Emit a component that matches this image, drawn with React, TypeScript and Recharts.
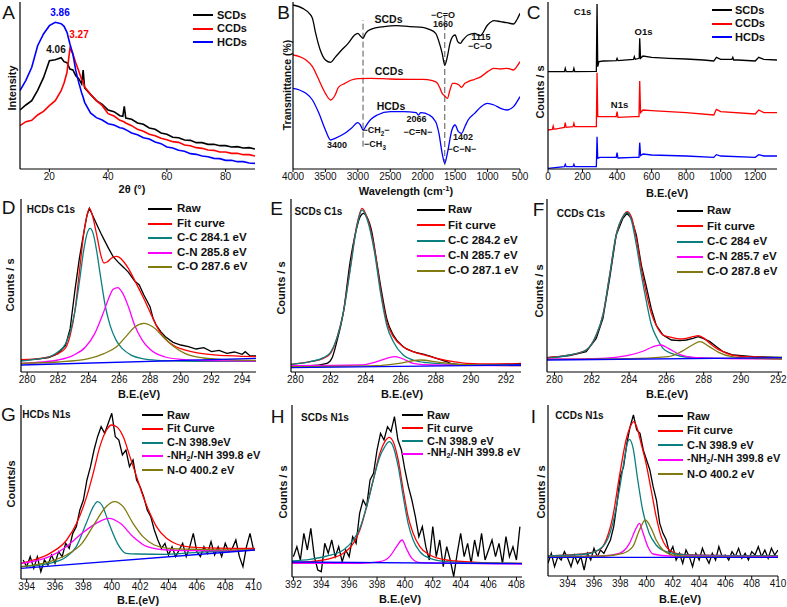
import React from 'react';
import { LineChart, Line, XAxis, YAxis, Legend, ReferenceLine } from 'recharts';

const FONT = '"Liberation Sans", Arial, Helvetica, sans-serif';

// ---------- A: XRD (2θ, intensity in arbitrary units)
const xrdTheta = [10, 12, 14, 16, 18, 20, 22, 24, 25, 26, 27, 28, 29, 30, 31, 31.5, 32, 34, 36, 38, 40, 42, 44, 45, 45.5, 46, 48, 50, 52, 54, 56, 58, 60, 62, 64, 66, 68, 70, 72, 74, 76, 78, 80, 82, 84, 86, 88, 90];
const xrdSCD = [177, 192, 205, 236, 274, 325, 328, 334, 322, 319, 300, 297, 280, 271, 255, 297, 243, 224, 205, 194, 177, 172, 160, 158, 188, 153, 149, 138, 134, 123, 119, 108, 104, 95, 94, 87, 86, 79, 79, 74, 74, 70, 70, 66, 67, 63, 64, 60];
const xrdCCD = [130, 142, 146, 162, 173, 190, 205, 235, 258, 290, 362, 345, 318, 294, 268, 262, 246, 224, 205, 190, 166, 159, 146, 143, 141, 138, 130, 119, 113, 104, 100, 92, 88, 82, 80, 72, 70, 64, 62, 57, 56, 51, 51, 47, 47, 43, 43, 39];
const xrdHCD = [235, 266, 305, 370, 405, 430, 440, 436, 428, 410, 375, 345, 295, 259, 228, 215, 200, 168, 154, 147, 136, 132, 124, 122, 120, 118, 108, 103, 94, 90, 81, 76, 66, 63, 56, 53, 46, 44, 39, 37, 32, 31, 26, 26, 22, 22, 18, 17];

// ---------- B: FTIR
const ftirSCDx = [4000, 3850, 3750, 3700, 3650, 3580, 3500, 3420, 3350, 3250, 3150, 3050, 3000, 2960, 2920, 2880, 2800, 2600, 2400, 2200, 2000, 1900, 1800, 1750, 1700, 1660, 1620, 1580, 1540, 1500, 1460, 1420, 1380, 1300, 1200, 1115, 1000, 900, 800, 700, 600, 550, 500];
const ftirSCDy = [492, 482, 467, 452, 407, 357, 327, 320, 335, 357, 377, 402, 407, 399, 392, 407, 419, 427, 430, 427, 425, 419, 407, 382, 347, 312, 337, 377, 397, 402, 382, 377, 387, 402, 407, 400, 432, 445, 442, 439, 435, 447, 467];
const ftirCCDx = [4000, 3900, 3800, 3700, 3600, 3500, 3420, 3350, 3300, 3200, 3100, 3000, 2800, 2500, 2200, 2000, 1850, 1780, 1740, 1700, 1660, 1620, 1580, 1540, 1500, 1440, 1400, 1350, 1300, 1200, 1100, 1000, 900, 800, 700, 600, 550, 500];
const ftirCCDy = [342, 337, 327, 307, 267, 227, 207, 222, 245, 257, 267, 271, 272, 270, 269, 269, 265, 259, 245, 227, 219, 212, 237, 257, 257, 252, 245, 257, 262, 269, 277, 292, 302, 300, 302, 297, 307, 322];
const ftirHCDx = [4000, 3900, 3800, 3700, 3600, 3500, 3420, 3350, 3200, 3100, 3000, 2960, 2920, 2880, 2850, 2700, 2500, 2300, 2100, 2066, 2030, 1900, 1800, 1750, 1700, 1660, 1620, 1550, 1500, 1450, 1400, 1350, 1300, 1200, 1100, 1000, 900, 800, 700, 600, 500];
const ftirHCDy = [242, 237, 227, 207, 167, 117, 87, 92, 107, 122, 139, 132, 117, 127, 137, 162, 172, 172, 169, 162, 169, 162, 142, 107, 47, 17, 47, 117, 132, 112, 107, 127, 147, 167, 187, 197, 192, 182, 177, 187, 217];

// ---------- C: XPS survey
const surSCDx = [0, 95, 100, 105, 145, 150, 155, 280, 284, 288, 295, 320, 395, 400, 405, 495, 500, 505, 528, 531, 536, 550, 600, 700, 800, 900, 960, 975, 1000, 1065, 1070, 1075, 1100, 1200, 1220, 1250, 1326];
const surSCDy = [292, 292, 302, 292, 292, 302, 292, 293, 495, 307, 322, 324, 325, 332, 325, 329, 337, 329, 332, 392, 332, 339, 335, 332, 330, 327, 324, 335, 329, 329, 335, 327, 327, 324, 335, 329, 327];
const surCCDx = [0, 25, 30, 35, 95, 100, 105, 145, 150, 155, 280, 284, 288, 300, 395, 400, 405, 500, 527, 531, 536, 550, 600, 800, 960, 975, 1000, 1200, 1220, 1250, 1326];
const surCCDy = [117, 119, 129, 119, 125, 139, 125, 127, 137, 127, 127, 289, 157, 157, 157, 172, 155, 157, 157, 264, 169, 177, 175, 169, 162, 179, 172, 165, 177, 169, 169];
const surHCDx = [0, 95, 100, 105, 145, 150, 155, 280, 284, 288, 300, 395, 400, 405, 500, 527, 531, 536, 550, 600, 800, 960, 975, 1000, 1200, 1220, 1250, 1326];
const surHCDy = [2, 7, 14, 7, 7, 14, 7, 7, 97, 32, 35, 35, 49, 33, 35, 35, 79, 40, 45, 42, 39, 35, 43, 39, 35, 43, 39, 39];

// ---------- D: HCDs C1s
const dRawX = [279.6, 280.5, 281.4, 282, 282.5, 282.8, 283.1, 283.4, 283.7, 283.9, 284.05, 284.2, 284.4, 284.6, 284.8, 285.0, 285.3, 285.6, 286.0, 286.3, 286.6, 287.0, 287.3, 287.6, 288.0, 288.2, 288.4, 288.7, 289.0, 289.5, 290.0, 290.5, 291.0, 291.5, 292.0, 292.5, 293.0, 293.5, 294.0, 294.2, 294.5, 294.9];
const dRawY = [36, 38, 43, 55, 80, 130, 241, 341, 421, 471, 491, 476, 456, 436, 416, 398, 371, 346, 326, 313, 299, 273, 261, 231, 196, 161, 141, 121, 106, 89, 81, 76, 69, 73, 61, 65, 56, 60, 53, 61, 49, 48];
const dFitX = [279.6, 280.5, 281.4, 282, 282.5, 282.8, 283.1, 283.4, 283.7, 283.9, 284.05, 284.2, 284.4, 284.6, 284.8, 285.0, 285.2, 285.5, 285.8, 286.0, 286.3, 286.6, 287.0, 287.3, 287.6, 288.0, 288.4, 288.8, 289.2, 289.6, 290.0, 291.0, 292.0, 293.0, 294.0, 294.9];
const dFitY = [37, 39, 45, 55, 72, 110, 180, 300, 420, 470, 490, 478, 440, 395, 350, 327, 330, 342, 347, 344, 330, 310, 275, 248, 220, 180, 140, 110, 90, 78, 70, 58, 52, 49, 47, 46];
const dCCx = [279.6, 280.5, 281.4, 282, 282.5, 282.8, 283.1, 283.4, 283.7, 283.9, 284.1, 284.3, 284.5, 284.8, 285.1, 285.4, 285.8, 286.2, 286.8, 287.5, 288.5, 290, 292, 294.9];
const dCCy = [33, 38, 45, 60, 85, 120, 180, 270, 370, 415, 431, 415, 370, 280, 195, 140, 95, 70, 50, 40, 35, 33, 32, 32];
const dCNx = [279.6, 281, 282, 283, 283.8, 284.4, 284.9, 285.3, 285.6, 285.9, 286.2, 286.6, 287, 287.5, 288, 289, 290, 292, 294.9];
const dCNy = [26, 30, 36, 50, 75, 115, 170, 220, 248, 253, 238, 195, 140, 95, 68, 45, 38, 34, 33];
const dCOx = [279.6, 282, 284, 285, 285.8, 286.5, 287, 287.6, 288.2, 288.8, 289.5, 290.3, 291.5, 293, 294.9];
const dCOy = [26, 30, 40, 55, 75, 110, 135, 146, 135, 108, 78, 55, 42, 37, 35];
const dBaseX = [279.6, 294.9];
const dBaseY = [21, 41];

// ---------- E: SCDs C1s
const eRawX = [279.75, 280.85, 281.8, 282.08, 282.36, 282.74, 283.12, 283.4, 283.69, 283.88, 284.06, 284.35, 284.63, 284.91, 285.2, 285.58, 286.14, 286.71, 287.47, 288.03, 288.6, 288.98, 289.73, 291.25, 292.85];
const eRawY = [19, 19, 26, 41, 91, 181, 331, 411, 466, 476, 466, 421, 331, 241, 161, 111, 76, 61, 51, 41, 31, 24, 21, 22, 26];
const eFitX = [279.75, 280.85, 281.6, 282, 282.36, 282.74, 283.12, 283.5, 283.8, 284.1, 284.5, 284.87, 285.2, 285.58, 286.14, 286.7, 287.47, 288.2, 289, 289.73, 291.25, 292.85];
const eFitY = [23, 31, 41, 56, 101, 181, 311, 441, 491, 461, 371, 241, 151, 106, 76, 61, 49, 39, 31, 26, 24, 24];
const eCCx = [279.75, 280.85, 281.6, 282, 282.36, 282.74, 283.12, 283.5, 283.8, 284.1, 284.5, 284.87, 285.2, 285.58, 286.14, 286.7, 287.47, 289, 292.85];
const eCCy = [23, 31, 43, 59, 101, 181, 306, 436, 486, 456, 361, 231, 141, 91, 51, 36, 28, 23, 21];
const eCNx = [279.75, 283.7, 284.63, 285.2, 285.7, 286.14, 286.7, 287.8, 292.85];
const eCNy = [19, 21, 31, 41, 46, 39, 26, 21, 19];
const eCOx = [279.75, 284.63, 285.9, 287.1, 288.2, 289.3, 292.85];
const eCOy = [16, 19, 26, 36, 29, 23, 19];
const eBaseX = [279.75, 292.85];
const eBaseY = [13, 21];

// ---------- F: CCDs C1s
const fRawX = [279.6, 280.81, 281.7, 282.24, 282.6, 282.96, 283.31, 283.67, 283.89, 284.12, 284.39, 284.66, 284.93, 285.19, 285.46, 285.82, 286.27, 286.72, 287.07, 287.43, 287.7, 287.97, 288.33, 288.69, 289.05, 289.58, 290.66, 292.2];
const fRawY = [43, 49, 61, 101, 161, 281, 411, 461, 476, 461, 411, 320, 255, 190, 140, 111, 96, 94, 96, 101, 106, 101, 91, 76, 61, 51, 46, 44];
const fFitX = [279.6, 280.81, 281.7, 282.24, 282.6, 282.96, 283.31, 283.67, 283.89, 284.12, 284.39, 284.66, 284.93, 285.2, 285.5, 285.82, 286.27, 286.72, 287.07, 287.43, 287.7, 287.97, 288.33, 288.69, 289.05, 289.58, 290.66, 292.2];
const fFitY = [43, 51, 66, 111, 171, 291, 411, 466, 481, 466, 400, 310, 235, 175, 135, 111, 104, 99, 101, 106, 109, 103, 86, 71, 61, 50, 45, 43];
const fCCx = [279.6, 280.81, 281.7, 282.24, 282.6, 282.96, 283.31, 283.67, 283.89, 284.12, 284.39, 284.66, 284.93, 285.2, 285.5, 285.82, 286.27, 286.72, 287.43, 288.5, 292.2];
const fCCy = [41, 51, 66, 111, 171, 291, 411, 466, 479, 456, 381, 291, 211, 141, 101, 71, 56, 48, 43, 41, 41];
const fCNx = [279.6, 282.6, 283.89, 284.78, 285.3, 285.7, 286.1, 286.7, 287.43, 288.8, 292.2];
const fCNy = [39, 41, 49, 63, 76, 81, 71, 53, 44, 41, 39];
const fCOx = [279.6, 284.5, 286.1, 286.8, 287.4, 287.8, 288.3, 288.8, 289.5, 290.6, 292.2];
const fCOy = [38, 41, 46, 61, 81, 91, 76, 59, 46, 41, 39];
const fBaseX = [279.6, 292.2];
const fBaseY = [36, 43];

// ---------- G: HCDs N1s
const gRawX = [393.75, 394, 394.25, 394.5, 394.75, 395, 395.25, 395.5, 395.75, 396, 396.25, 396.5, 396.75, 397, 397.25, 397.5, 397.75, 398, 398.25, 398.5, 398.75, 399, 399.25, 399.5, 399.75, 400, 400.25, 400.5, 400.75, 401, 401.25, 401.5, 401.75, 402, 402.25, 402.5, 402.75, 403, 403.25, 403.5, 403.75, 404, 404.25, 404.5, 404.75, 405, 405.25, 405.5, 405.75, 406, 406.25, 406.5, 406.75, 407, 407.25, 407.5, 407.75, 408, 408.25, 408.5, 408.75, 409, 409.25, 409.5, 409.75, 410];
const gRawY = [57, 37, 67, 32, 67, 22, 57, 42, 72, 47, 82, 67, 107, 92, 137, 157, 207, 237, 297, 337, 387, 427, 457, 437, 467, 497, 427, 417, 372, 387, 337, 357, 297, 277, 247, 207, 187, 147, 117, 92, 107, 72, 97, 67, 87, 107, 67, 97, 137, 82, 67, 97, 77, 112, 72, 97, 67, 107, 82, 92, 117, 67, 37, 97, 137, 87];
const gFitX = [393.6, 394.47, 395.64, 396.82, 397.52, 398.23, 398.69, 399.16, 399.63, 399.99, 400.34, 400.81, 401.28, 401.75, 402.22, 402.69, 403.15, 403.86, 404.56, 405.27, 406.2, 408.55, 410.1];
const gFitY = [47, 57, 77, 117, 167, 247, 317, 397, 447, 462, 457, 427, 367, 307, 247, 197, 157, 122, 105, 97, 94, 92, 92];
const gCNx = [393.6, 395.64, 396.8, 397.5, 398.2, 398.7, 399.0, 399.3, 399.8, 400.4, 401.0, 401.8, 403.9, 406, 410.1];
const gCNy = [37, 47, 67, 97, 167, 217, 232, 222, 167, 107, 77, 75, 74, 80, 87];
const gNHx = [393.6, 395.6, 396.8, 397.9, 398.9, 399.8, 400.6, 401.5, 402.5, 403.9, 406, 410.1];
const gNHy = [47, 67, 97, 137, 167, 182, 167, 127, 97, 87, 85, 87];
const gNOx = [393.6, 395.6, 396.8, 397.9, 398.8, 399.6, 400.2, 400.8, 401.5, 402.2, 403, 404, 406, 410.1];
const gNOy = [37, 52, 72, 107, 167, 217, 232, 217, 167, 127, 102, 92, 89, 87];
const gBaseX = [393.6, 410.1];
const gBaseY = [32, 87];

// ---------- H: SCDs N1s
const hRawX = [392, 392.25, 392.5, 392.75, 393, 393.25, 393.5, 393.75, 394, 394.25, 394.5, 394.75, 395, 395.25, 395.5, 395.75, 396, 396.25, 396.5, 396.75, 397, 397.25, 397.5, 397.75, 398, 398.25, 398.5, 398.75, 399, 399.25, 399.5, 399.75, 400, 400.25, 400.5, 400.75, 401, 401.25, 401.5, 401.75, 402, 402.25, 402.5, 402.75, 403, 403.25, 403.5, 403.75, 404, 404.25, 404.5, 404.75, 405, 405.25, 405.5, 405.75, 406, 406.25, 406.5, 406.75, 407, 407.25, 407.5, 407.75, 408, 408.25];
const hRawY = [61, 91, 51, 131, 81, 146, 61, 21, 16, 101, 71, 111, 61, 91, 46, 81, 61, 121, 101, 191, 231, 211, 291, 311, 381, 431, 411, 451, 436, 481, 411, 381, 321, 271, 231, 181, 121, 151, 91, 51, 151, 61, 111, 31, 91, 51, 1, 71, 131, 61, 101, 41, 111, 61, 131, 51, 81, 111, 61, 101, 41, 121, 61, 91, 51, 151];
const hFitX = [391.9, 393.19, 394.39, 395.58, 396.3, 396.77, 397.25, 397.73, 398.2, 398.56, 398.87, 399.16, 399.52, 399.88, 400.23, 400.59, 401.07, 401.79, 402.98, 405.13, 408.4];
const hFitY = [43, 46, 53, 71, 101, 141, 211, 291, 371, 406, 419, 406, 351, 261, 181, 131, 91, 66, 51, 44, 41];
const hCNy = [48, 53, 63, 81, 111, 146, 211, 291, 361, 391, 406, 391, 331, 241, 161, 111, 76, 56, 46, 42, 41];
const hNHx = [391.9, 396.77, 398.2, 398.9, 399.4, 399.8, 400.1, 400.5, 401.1, 408.4];
const hNHy = [41, 41, 46, 61, 91, 111, 86, 56, 43, 39];
const hBaseX = [391.9, 408.4];
const hBaseY = [45, 40];

// ---------- I: CCDs N1s
const iRawX = [392.5, 392.75, 393, 393.25, 393.5, 393.75, 394, 394.25, 394.5, 394.75, 395, 395.25, 395.5, 395.75, 396, 396.25, 396.5, 396.75, 397, 397.25, 397.5, 397.75, 398, 398.25, 398.5, 398.75, 399, 399.25, 399.5, 399.75, 400, 400.25, 400.5, 400.75, 401, 401.25, 401.5, 401.75, 402, 402.25, 402.5, 402.75, 403, 403.25, 403.5, 403.75, 404, 404.25, 404.5, 404.75, 405, 405.25, 405.5, 405.75, 406, 406.25, 406.5, 406.75, 407, 407.25, 407.5, 407.75, 408, 408.25, 408.5, 408.75, 409, 409.25, 409.5, 409.75, 410];
const iRawY = [38, 68, 28, 58, 48, 73, 53, 28, 63, 38, 58, 18, 68, 48, 83, 58, 78, 68, 88, 108, 148, 218, 298, 328, 398, 448, 483, 438, 428, 378, 348, 318, 268, 228, 158, 128, 108, 68, 88, 48, 68, 38, 78, 58, 28, 68, 48, 83, 58, 38, 68, 48, 88, 58, 63, 48, 73, 58, 83, 53, 68, 48, 73, 63, 88, 58, 78, 53, 83, 63, 78];
const iFitX = [392.5, 394.13, 395.4, 396.41, 396.92, 397.43, 397.93, 398.44, 398.82, 399.0, 399.25, 399.58, 399.96, 400.35, 400.73, 401.11, 401.49, 402.25, 403.52, 410];
const iFitY = [60, 63, 68, 78, 108, 178, 298, 408, 453, 463, 448, 398, 338, 258, 178, 118, 88, 68, 63, 60];
const iCNx = [392.5, 395.4, 396.66, 397.43, 397.93, 398.3, 398.57, 398.7, 398.95, 399.33, 399.7, 400.2, 400.73, 401.49, 403.0, 410];
const iCNy = [60, 66, 88, 158, 258, 348, 403, 410, 388, 288, 198, 128, 93, 73, 63, 60];
const iNHx = [392.5, 396.66, 397.93, 398.7, 399.2, 399.46, 399.7, 400.1, 400.5, 401.8, 410];
const iNHy = [58, 60, 68, 98, 143, 158, 133, 88, 66, 60, 58];
const iNOx = [392.5, 396.66, 398.2, 398.95, 399.46, 399.91, 400.35, 400.73, 401.24, 402.0, 403.5, 410];
const iNOy = [58, 60, 68, 88, 138, 168, 143, 108, 78, 63, 58, 56];
const iBaseX = [392.5, 410];
const iBaseY = [56, 56];

const BLACK = '#000000';
const RED = '#ff0000';
const BLUE = '#0000ff';
const TEAL = '#0b7f7f';
const MAGENTA = '#ff00ff';
const OLIVE = '#807a10';

type Pt = { x: number; y: number };
const pts = (xs: number[], ys: number[]): Pt[] => xs.map((x, i) => ({ x, y: ys[i] }));

type Series = { name: string; color: string; data: Pt[]; smooth?: boolean; width?: number };
type LegendCfg = { x: number; y: number; row: number; line: number; gap: number; font: number; names: string[] };

function legendLabel(v: string) {
  if (v.startsWith('-NH2')) {
    return (
      <span>
        -NH<sub style={{ fontSize: '0.65em', verticalAlign: '-0.3em' }}>2</sub>
        {v.slice(4)}
      </span>
    );
  }
  return v;
}

function makeLegend(cfg: LegendCfg) {
  return (props: any) => {
    const items = (props.payload || [])
      .filter((e: any) => cfg.names.includes(e.value))
      .sort((a: any, b: any) => cfg.names.indexOf(a.value) - cfg.names.indexOf(b.value));
    return (
      <div>
        {items.map((e: any) => (
          <div
            key={e.value}
            style={{ display: 'flex', alignItems: 'center', height: cfg.row, fontFamily: FONT, fontSize: cfg.font, fontWeight: 'bold', color: '#111', whiteSpace: 'nowrap', lineHeight: 1 }}
          >
            <span style={{ display: 'inline-block', width: cfg.line, height: 2, background: e.color, marginRight: cfg.gap }} />
            {legendLabel(e.value)}
          </div>
        ))}
      </div>
    );
  };
}

type PanelProps = {
  left: number; top: number; w: number; h: number;
  xDomain: [number, number]; ticks: number[]; yMax: number; reversed?: boolean;
  series: Series[]; legend?: LegendCfg; children?: React.ReactNode;
};

function Panel({ left, top, w, h, xDomain, ticks, yMax, reversed, series, legend, children }: PanelProps) {
  const ox = left - 30;
  const oy = top - 5;
  return (
    <div style={{ position: 'absolute', left: ox, top: oy }}>
      <LineChart width={w + 40} height={h + 35} margin={{ top: 5, right: 10, bottom: 0, left: 0 }}>
        <XAxis
          dataKey="x" type="number" domain={xDomain} allowDataOverflow ticks={ticks} interval={0}
          reversed={reversed} height={30} tickSize={3} tickMargin={1}
          tick={{ fontSize: 10, fill: '#111', fontFamily: FONT }}
          axisLine={{ stroke: '#000', strokeWidth: 1.2 }} tickLine={{ stroke: '#000' }}
        />
        <XAxis
          xAxisId="top" orientation="top" dataKey="x" type="number" domain={xDomain} allowDataOverflow
          reversed={reversed} height={0} tick={false} tickLine={false} axisLine={{ stroke: '#000', strokeWidth: 1.2 }}
        />
        <YAxis type="number" domain={[0, yMax]} allowDataOverflow width={30} tick={false} tickLine={false} axisLine={{ stroke: '#000', strokeWidth: 1.2 }} />
        <YAxis yAxisId="right" orientation="right" type="number" domain={[0, yMax]} allowDataOverflow width={0} tick={false} tickLine={false} axisLine={{ stroke: '#000', strokeWidth: 1.2 }} />
        {children}
        {series.map((s) => (
          <Line
            key={s.name} data={s.data} dataKey="y" name={s.name}
            type={s.smooth ? 'monotone' : 'linear'} stroke={s.color} strokeWidth={s.width ?? 1.3}
            dot={false} activeDot={false} isAnimationActive={false}
          />
        ))}
        {legend && (
          <Legend
            layout="horizontal" verticalAlign="middle" align="center"
            content={makeLegend(legend)}
            wrapperStyle={{ left: legend.x - ox, top: legend.y - legend.row / 2 - oy, width: 'auto', height: 'auto' }}
          />
        )}
      </LineChart>
    </div>
  );
}

function Txt({ x, y, children, size = 11, bold = true, color = '#111', rot = false }: { x: number; y: number; children: React.ReactNode; size?: number; bold?: boolean; color?: string; rot?: boolean }) {
  return (
    <div
      style={{
        position: 'absolute', left: x, top: y,
        transform: `translate(-50%, -50%)${rot ? ' rotate(-90deg)' : ''}`,
        fontFamily: FONT, fontSize: size, fontWeight: bold ? 'bold' : 'normal', color,
        whiteSpace: 'nowrap', lineHeight: 1,
      }}
    >
      {children}
    </div>
  );
}

const Letter = ({ x, y, c }: { x: number; y: number; c: string }) => <Txt x={x} y={y} size={19} bold={false}>{c}</Txt>;

const c1sNames = ['Raw', 'Fit curve'];

export default function App() {
  return (
    <div style={{ position: 'absolute', left: 0, top: 0, width: 787, height: 607, background: '#fff', overflow: 'hidden' }}>
      {/* A */}
      <Panel
        left={20} top={2} w={235} h={167} xDomain={[10, 90]} ticks={[20, 40, 60, 80]} yMax={501}
        series={[
          { name: 'SCDs', color: BLACK, data: pts(xrdTheta, xrdSCD), width: 1.6 },
          { name: 'CCDs', color: RED, data: pts(xrdTheta, xrdCCD), width: 1.6 },
          { name: 'HCDs', color: BLUE, data: pts(xrdTheta, xrdHCD), width: 1.6 },
        ]}
        legend={{ x: 193, y: 15, row: 13.5, line: 20, gap: 4, font: 11, names: ['SCDs', 'CCDs', 'HCDs'] }}
      />
      {/* B */}
      <Panel
        left={293} top={2} w={227} h={167} xDomain={[500, 4000]} reversed
        ticks={[4000, 3500, 3000, 2500, 2000, 1500, 1000, 500]} yMax={501}
        series={[
          { name: 'SCDs', color: BLACK, data: pts(ftirSCDx, ftirSCDy), smooth: true },
          { name: 'CCDs', color: RED, data: pts(ftirCCDx, ftirCCDy), smooth: true },
          { name: 'HCDs', color: BLUE, data: pts(ftirHCDx, ftirHCDy), smooth: true },
        ]}
      >
        <ReferenceLine segment={[{ x: 2920, y: 67 }, { x: 2920, y: 447 }]} stroke="#555" strokeDasharray="6 3" />
        <ReferenceLine segment={[{ x: 1660, y: 12 }, { x: 1660, y: 467 }]} stroke="#555" strokeDasharray="6 3" />
      </Panel>
      {/* C */}
      <Panel
        left={548} top={2} w={229} h={167} xDomain={[0, 1326]} ticks={[0, 200, 400, 600, 800, 1000, 1200]} yMax={501}
        series={[
          { name: 'SCDs', color: BLACK, data: pts(surSCDx, surSCDy) },
          { name: 'CCDs', color: RED, data: pts(surCCDx, surCCDy) },
          { name: 'HCDs', color: BLUE, data: pts(surHCDx, surHCDy) },
        ]}
        legend={{ x: 712, y: 10, row: 13.5, line: 20, gap: 3, font: 11, names: ['SCDs', 'CCDs', 'HCDs'] }}
      />
      {/* D */}
      <Panel
        left={21} top={199} w={235} h={173} xDomain={[279.6, 294.9]} ticks={[280, 282, 284, 286, 288, 290, 292, 294]} yMax={519}
        series={[
          { name: 'Raw', color: BLACK, data: pts(dRawX, dRawY) },
          { name: 'Fit curve', color: RED, data: pts(dFitX, dFitY), smooth: true },
          { name: 'C-C 284.1 eV', color: TEAL, data: pts(dCCx, dCCy), smooth: true },
          { name: 'C-N 285.8 eV', color: MAGENTA, data: pts(dCNx, dCNy), smooth: true },
          { name: 'C-O 287.6 eV', color: OLIVE, data: pts(dCOx, dCOy), smooth: true },
          { name: 'Baseline', color: BLUE, data: pts(dBaseX, dBaseY) },
        ]}
        legend={{ x: 148, y: 209, row: 14.5, line: 24, gap: 5, font: 11.5, names: [...c1sNames, 'C-C 284.1 eV', 'C-N 285.8 eV', 'C-O 287.6 eV'] }}
      />
      {/* E */}
      <Panel
        left={291} top={199} w={230} h={173} xDomain={[279.75, 292.85]} ticks={[280, 282, 284, 286, 288, 290, 292]} yMax={519}
        series={[
          { name: 'Raw', color: BLACK, data: pts(eRawX, eRawY), smooth: true },
          { name: 'Fit curve', color: RED, data: pts(eFitX, eFitY), smooth: true },
          { name: 'C-C 284.2 eV', color: TEAL, data: pts(eCCx, eCCy), smooth: true },
          { name: 'C-N 285.7 eV', color: MAGENTA, data: pts(eCNx, eCNy), smooth: true },
          { name: 'C-O 287.1 eV', color: OLIVE, data: pts(eCOx, eCOy), smooth: true },
          { name: 'Baseline', color: BLUE, data: pts(eBaseX, eBaseY) },
        ]}
        legend={{ x: 417, y: 210, row: 15.25, line: 28, gap: 3, font: 11.5, names: [...c1sNames, 'C-C 284.2 eV', 'C-N 285.7 eV', 'C-O 287.1 eV'] }}
      />
      {/* F */}
      <Panel
        left={547} top={199} w={235} h={173} xDomain={[279.6, 292.2]} ticks={[280, 282, 284, 286, 288, 290, 292]} yMax={519}
        series={[
          { name: 'Raw', color: BLACK, data: pts(fRawX, fRawY) },
          { name: 'Fit curve', color: RED, data: pts(fFitX, fFitY), smooth: true },
          { name: 'C-C 284  eV', color: TEAL, data: pts(fCCx, fCCy), smooth: true },
          { name: 'C-N 285.7 eV', color: MAGENTA, data: pts(fCNx, fCNy), smooth: true },
          { name: 'C-O 287.8 eV', color: OLIVE, data: pts(fCOx, fCOy), smooth: true },
          { name: 'Baseline', color: BLUE, data: pts(fBaseX, fBaseY) },
        ]}
        legend={{ x: 677, y: 211, row: 15.25, line: 26, gap: 4, font: 11.5, names: [...c1sNames, 'C-C 284  eV', 'C-N 285.7 eV', 'C-O 287.8 eV'] }}
      />
      {/* G */}
      <Panel
        left={21} top={405} w={234} h={174} xDomain={[393.6, 410.1]} ticks={[394, 396, 398, 400, 402, 404, 406, 408, 410]} yMax={522}
        series={[
          { name: 'Raw', color: BLACK, data: pts(gRawX, gRawY) },
          { name: 'Fit Curve', color: RED, data: pts(gFitX, gFitY), smooth: true },
          { name: 'C-N 398.9eV', color: TEAL, data: pts(gCNx, gCNy), smooth: true },
          { name: '-NH2/-NH 399.8 eV', color: MAGENTA, data: pts(gNHx, gNHy), smooth: true },
          { name: 'N-O 400.2 eV', color: OLIVE, data: pts(gNOx, gNOy), smooth: true },
          { name: 'Baseline', color: BLUE, data: pts(gBaseX, gBaseY) },
        ]}
        legend={{ x: 142, y: 415, row: 13.75, line: 21, gap: 4, font: 11, names: ['Raw', 'Fit Curve', 'C-N 398.9eV', '-NH2/-NH 399.8 eV', 'N-O 400.2 eV'] }}
      />
      {/* H */}
      <Panel
        left={292} top={405} w={230} h={172} xDomain={[391.9, 408.4]} ticks={[392, 394, 396, 398, 400, 402, 404, 406, 408]} yMax={516}
        series={[
          { name: 'Raw', color: BLACK, data: pts(hRawX, hRawY) },
          { name: 'Fit curve', color: RED, data: pts(hFitX, hFitY), smooth: true },
          { name: 'C-N  398.9 eV', color: TEAL, data: pts(hFitX, hCNy), smooth: true },
          { name: '-NH2/-NH 399.8 eV', color: MAGENTA, data: pts(hNHx, hNHy), smooth: true },
          { name: 'Baseline', color: BLUE, data: pts(hBaseX, hBaseY) },
        ]}
        legend={{ x: 402, y: 415, row: 13, line: 21, gap: 4, font: 11, names: ['Raw', 'Fit curve', 'C-N  398.9 eV', '-NH2/-NH 399.8 eV'] }}
      />
      {/* I */}
      <Panel
        left={548} top={405} w={230} h={171} xDomain={[392.5, 410]} ticks={[394, 396, 398, 400, 402, 404, 406, 408, 410]} yMax={513}
        series={[
          { name: 'Raw', color: BLACK, data: pts(iRawX, iRawY) },
          { name: 'Fit curve', color: RED, data: pts(iFitX, iFitY), smooth: true },
          { name: 'C-N 398.9 eV', color: TEAL, data: pts(iCNx, iCNy), smooth: true },
          { name: '-NH2/-NH 399.8 eV', color: MAGENTA, data: pts(iNHx, iNHy), smooth: true },
          { name: 'N-O 400.2 eV', color: OLIVE, data: pts(iNOx, iNOy), smooth: true },
          { name: 'Baseline', color: BLUE, data: pts(iBaseX, iBaseY) },
        ]}
        legend={{ x: 658, y: 416, row: 14.5, line: 25, gap: 4, font: 11, names: ['Raw', 'Fit curve', 'C-N 398.9 eV', '-NH2/-NH 399.8 eV', 'N-O 400.2 eV'] }}
      />

      {/* text: A */}
      <Letter x={8.5} y={11.5} c="A" />
      <Txt x={60} y={13} size={10} color={BLUE}>3.86</Txt>
      <Txt x={56} y={50} size={10}>4.06</Txt>
      <Txt x={79} y={35} size={10} color={RED}>3.27</Txt>
      <Txt x={11.5} y={88} rot>Intensity</Txt>
      <Txt x={132} y={189}>2θ (°)</Txt>

      {/* text: B */}
      <Letter x={283.5} y={11.5} c="B" />
      <Txt x={388.5} y={19} size={10.5}>SCDs</Txt>
      <Txt x={389} y={71} size={10.5}>CCDs</Txt>
      <Txt x={391} y={106} size={10.5}>HCDs</Txt>
      <Txt x={443} y={14.5} size={9}>−C=O</Txt>
      <Txt x={443} y={23.5} size={9}>1660</Txt>
      <Txt x={481} y={36.5} size={9}>1115</Txt>
      <Txt x={480} y={46} size={9}>−C−O</Txt>
      <Txt x={376} y={132} size={9}>−CH<sub style={{ fontSize: '0.7em' }}>2</sub>−</Txt>
      <Txt x={375} y={146} size={9}>−CH<sub style={{ fontSize: '0.7em' }}>3</sub></Txt>
      <Txt x={416.5} y={118.5} size={9}>2066</Txt>
      <Txt x={418} y={131.5} size={9}>−C=N−</Txt>
      <Txt x={337} y={145} size={9}>3400</Txt>
      <Txt x={463} y={136.5} size={9}>1402</Txt>
      <Txt x={462} y={148.5} size={9}>−C−N−</Txt>
      <Txt x={287} y={85} size={10.5} rot>Transmittance (%)</Txt>
      <Txt x={406} y={191}>Wavelength (cm<sup style={{ fontSize: '0.7em' }}>-1</sup>)</Txt>

      {/* text: C */}
      <Letter x={533.5} y={11.5} c="C" />
      <Txt x={582.5} y={11.5} size={9.5}>C1s</Txt>
      <Txt x={643.5} y={31.5} size={9.5}>O1s</Txt>
      <Txt x={619.5} y={105} size={9.5}>N1s</Txt>
      <Txt x={540} y={92} rot>Counts / s</Txt>
      <Txt x={667} y={193}>B.E.(eV)</Txt>

      {/* text: D, E, F */}
      <Letter x={8.5} y={206.5} c="D" />
      <Txt x={51} y={210} size={10}>HCDs C1s</Txt>
      <Txt x={10} y={285} rot>Counts / s</Txt>
      <Txt x={139} y={394}>B.E.(eV)</Txt>

      <Letter x={276.5} y={208} c="E" />
      <Txt x={318.5} y={211.5} size={10}>SCDs C1s</Txt>
      <Txt x={281} y={288} rot>Counts / s</Txt>
      <Txt x={402} y={394}>B.E.(eV)</Txt>

      <Letter x={538.5} y={209} c="F" />
      <Txt x={581} y={213.5} size={10}>CCDs C1s</Txt>
      <Txt x={539} y={291} rot>Counts / s</Txt>
      <Txt x={667} y={394}>B.E.(eV)</Txt>

      {/* text: G, H, I */}
      <Letter x={8.5} y={414} c="G" />
      <Txt x={46.5} y={415} size={10}>HCDs N1s</Txt>
      <Txt x={11} y={484} rot>Counts/s</Txt>
      <Txt x={138} y={600}>B.E.(eV)</Txt>

      <Letter x={277.5} y={416} c="H" />
      <Txt x={325} y={418} size={10}>SCDs N1s</Txt>
      <Txt x={283} y={492} rot>Counts / s</Txt>
      <Txt x={400} y={599}>B.E.(eV)</Txt>

      <Letter x={533.5} y={416} c="I" />
      <Txt x={579.5} y={416} size={10}>CCDs N1s</Txt>
      <Txt x={541} y={492} rot>Counts / s</Txt>
      <Txt x={680} y={599}>B.E.(eV)</Txt>
    </div>
  );
}
